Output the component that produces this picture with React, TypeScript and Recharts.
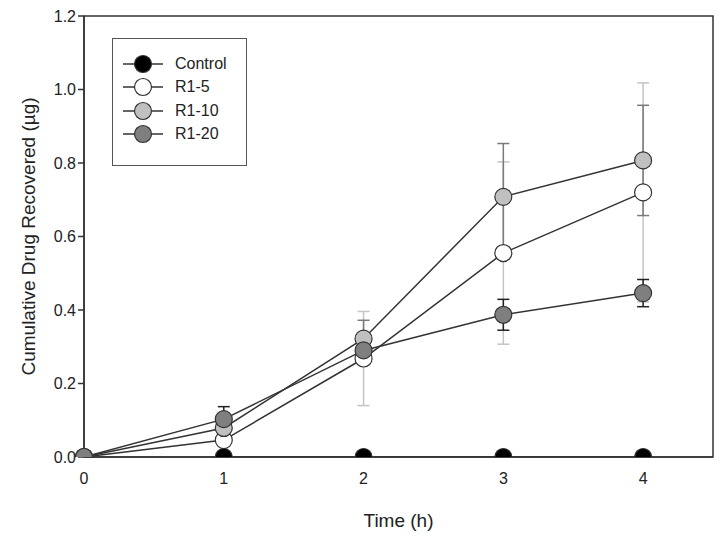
import {
  ErrorBar,
  Label,
  Line,
  LineChart,
  ReferenceArea,
  XAxis,
  YAxis,
} from "recharts";

const times = [0, 1, 2, 3, 4];
const control = [null, 0, 0, 0, 0];
const r1_5 = [0, 0.046, 0.268, 0.555, 0.72];
const r1_5_err = [0, 0, 0.128, 0.248, 0.298];
const r1_10 = [0, 0.079, 0.322, 0.708, 0.807];
const r1_10_err = [0, 0.01, 0.05, 0.145, 0.15];
const r1_20 = [0, 0.103, 0.29, 0.387, 0.446];
const r1_20_err = [0, 0.034, 0.015, 0.042, 0.037];

const xTicks = [0, 1, 2, 3, 4];
const yTicks = [0, 0.2, 0.4, 0.6, 0.8, 1.0, 1.2];

const data = times.map((t, i) => ({
  time: t,
  control: control[i],
  r1_5: r1_5[i],
  r1_5_err: r1_5_err[i],
  r1_10: r1_10[i],
  r1_10_err: r1_10_err[i],
  r1_20: r1_20[i],
  r1_20_err: r1_20_err[i],
}));

// draw order: R1-5, R1-10, R1-20, then control on top
const series = [
  { key: "r1_5", name: "R1-5", fill: "#ffffff", err: "#c4c4c4" },
  { key: "r1_10", name: "R1-10", fill: "#c0c0c0", err: "#7a7a7a" },
  { key: "r1_20", name: "R1-20", fill: "#7f7f7f", err: "#222222" },
  { key: "control", name: "Control", fill: "#000000", err: "" },
];
const legendOrder = ["control", "r1_5", "r1_10", "r1_20"];

const font = "'Liberation Sans', Arial, sans-serif";
const ink = "#333";

function LegendBox() {
  return (
    <div
      style={{
        position: "absolute",
        left: 112,
        top: 38,
        border: "1.5px solid #555",
        width: 135,
        height: 128,
        boxSizing: "border-box",
        padding: "13px 0 0 10px",
        fontFamily: font,
        fontSize: 16,
        color: "#222",
        background: "#fff",
      }}
    >
      {legendOrder.map((k) => {
        const s = series.find((d) => d.key === k)!;
        return (
          <div
            key={k}
            style={{ display: "flex", alignItems: "center", height: 23.5 }}
          >
            <svg width={42} height={20}>
              <line x1={0} y1={10} x2={40} y2={10} stroke={ink} strokeWidth={1.4} />
              <circle cx={20} cy={10} r={8.5} fill={s.fill} stroke={ink} strokeWidth={1.2} />
            </svg>
            <span style={{ marginLeft: 10 }}>{s.name}</span>
          </div>
        );
      })}
    </div>
  );
}

export default function App() {
  return (
    <div style={{ position: "absolute", left: 0, top: 0, width: 724, height: 540, background: "#fff" }}>
      <LineChart
        width={724}
        height={540}
        data={data}
        margin={{ top: 16, right: 11, left: 24, bottom: 53 }}
        style={{ fontFamily: font }}
      >
        <XAxis
          dataKey="time"
          type="number"
          domain={[0, 4.5]}
          ticks={xTicks}
          tickLine={false}
          stroke={ink}
          strokeWidth={1.5}
          height={30}
          tick={{ fill: "#222", fontSize: 16 }}
          tickMargin={10}
        >
          <Label
            value="Time (h)"
            position="insideBottom"
            offset={-40}
            style={{ fill: "#222", fontSize: 19 }}
          />
        </XAxis>
        <YAxis
          type="number"
          domain={[0, 1.2]}
          ticks={yTicks}
          tickFormatter={(v: number) => v.toFixed(1)}
          stroke={ink}
          strokeWidth={1.5}
          tickSize={6}
          width={60}
          tick={{ fill: "#222", fontSize: 16 }}
          allowDataOverflow
        >
          <Label
            value="Cumulative Drug Recovered (µg)"
            angle={-90}
            position="insideLeft"
            offset={4}
            style={{ fill: "#222", fontSize: 19, textAnchor: "middle" }}
          />
        </YAxis>
        <ReferenceArea
          x1={0}
          x2={4.5}
          y1={0}
          y2={1.2}
          fill="none"
          stroke={ink}
          strokeWidth={1.5}
          ifOverflow="visible"
        />
        {series.map((s) => (
          <Line
            key={s.key}
            dataKey={s.key}
            name={s.name}
            stroke={ink}
            strokeWidth={1.5}
            isAnimationActive={false}
            dot={{ r: 8.5, fill: s.fill, stroke: ink, strokeWidth: 1.2, fillOpacity: 1 }}
            activeDot={false}
          >
            {s.err && (
              <ErrorBar
                dataKey={`${s.key}_err`}
                direction="y"
                width={6}
                stroke={s.err}
                strokeWidth={1.5}
              />
            )}
          </Line>
        ))}
      </LineChart>
      <LegendBox />
    </div>
  );
}
